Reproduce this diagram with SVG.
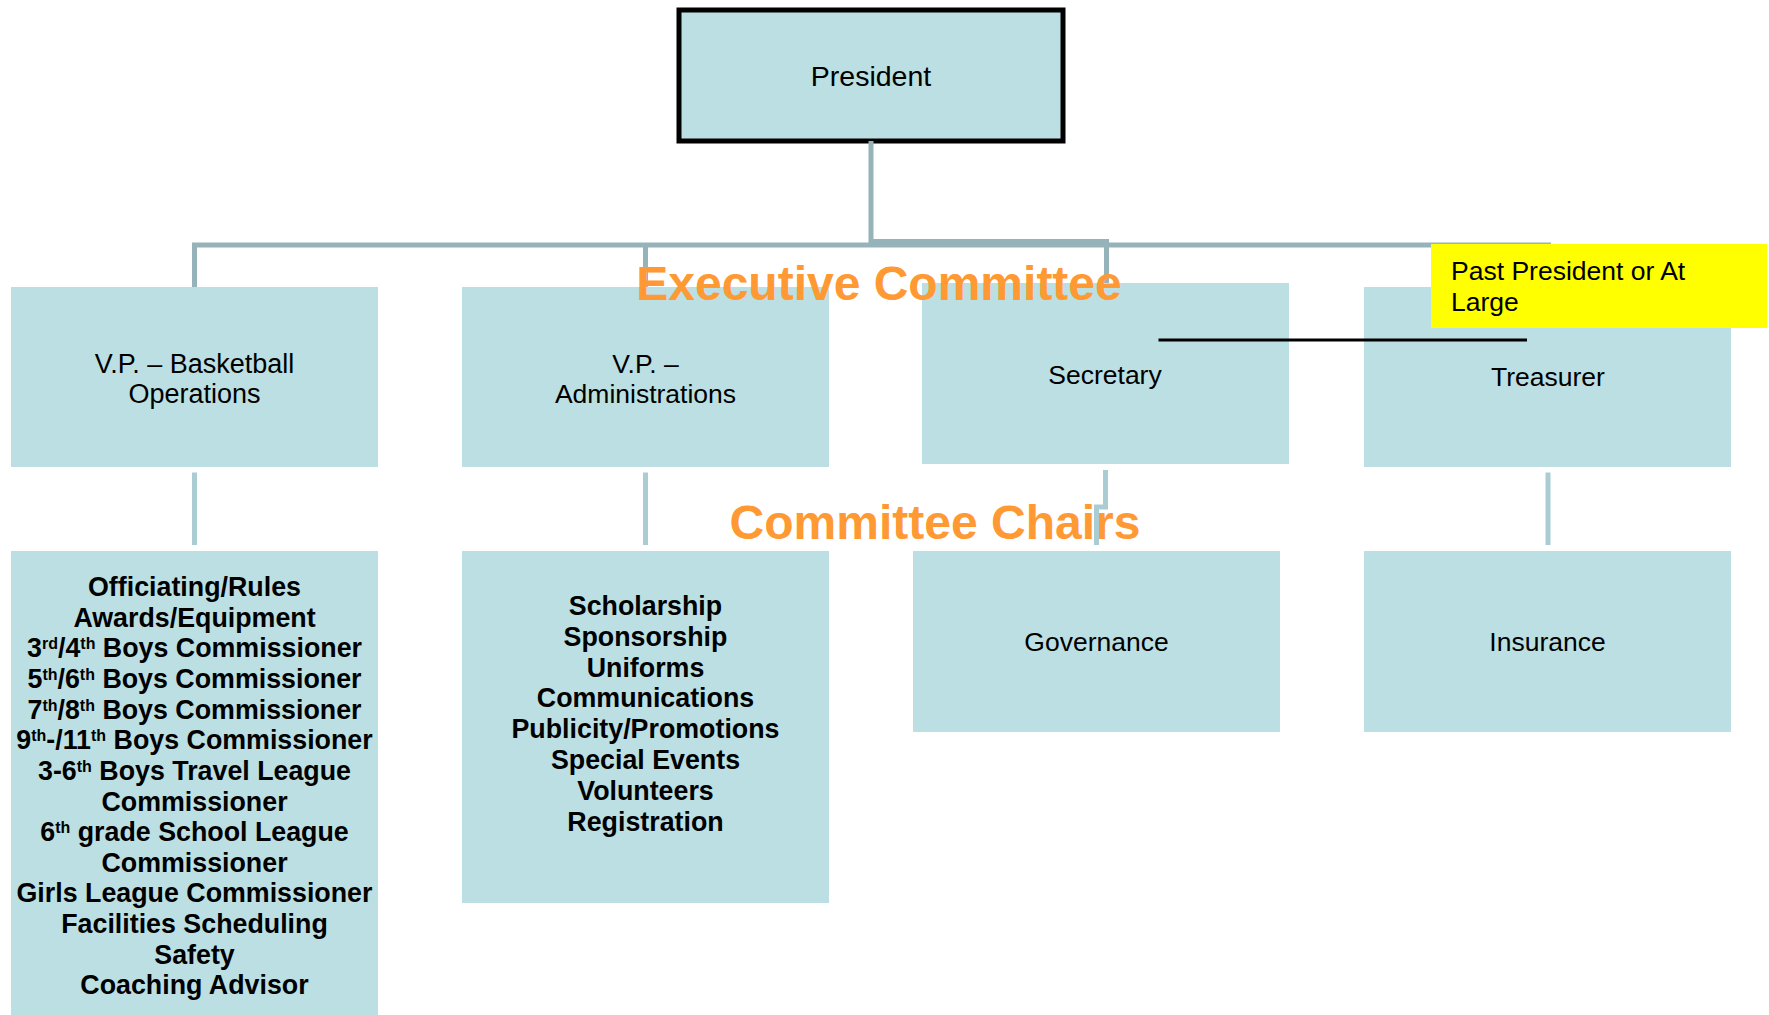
<svg xmlns="http://www.w3.org/2000/svg" width="1769" height="1015" viewBox="0 0 1769 1015">
<style>
.box{fill:#BBDFE2}
.lbl{font-family:"Liberation Sans",Arial,sans-serif;font-size:26.5px;fill:#000;text-anchor:middle}
.list{font-weight:bold;font-size:26.8px}
.sup{font-size:16px}
.ct{stroke:#95B3B8;stroke-width:5;fill:none}
.cl{stroke:#A9CDD2;stroke-width:5;fill:none}
.title{font-family:"Liberation Sans",Arial,sans-serif;font-weight:bold;fill:#FF9933;font-size:48px;text-anchor:middle}
</style>
<rect width="1769" height="1015" fill="#FFFFFF"/>
<g id="president">
<rect x="679" y="10" width="384" height="131" fill="#BBDFE2" stroke="#000" stroke-width="5"/>
<text class="lbl" x="871" y="86" style="font-size:28.5px">President</text>
</g>
<g id="vp-basketball">
<rect class="box" x="11" y="287" width="367" height="180"/>
<text class="lbl" x="194.5" y="373" style="font-size:27px">V.P. – Basketball</text>
<text class="lbl" x="194.5" y="403" style="font-size:27px">Operations</text>
</g>
<g id="vp-admin">
<rect class="box" x="462" y="287" width="367" height="180"/>
<text class="lbl" x="645.5" y="373">V.P. –</text>
<text class="lbl" x="645.5" y="403">Administrations</text>
</g>
<g id="secretary">
<rect class="box" x="922" y="283" width="367" height="181"/>
<text class="lbl" x="1105" y="384">Secretary</text>
</g>
<g id="treasurer">
<rect class="box" x="1364" y="287" width="367" height="180"/>
<text class="lbl" x="1548" y="386">Treasurer</text>
</g>
<g id="basketball-chairs">
<rect class="box" x="11" y="551" width="367" height="470"/>
<text class="lbl list" x="194.5" y="596">Officiating/Rules</text>
<text class="lbl list" x="194.5" y="626.6">Awards/Equipment</text>
<text class="lbl list" x="194.5" y="657.3">3<tspan class="sup" baseline-shift="super">rd</tspan>/4<tspan class="sup" baseline-shift="super">th</tspan> Boys Commissioner</text>
<text class="lbl list" x="194.5" y="687.9">5<tspan class="sup" baseline-shift="super">th</tspan>/6<tspan class="sup" baseline-shift="super">th</tspan> Boys Commissioner</text>
<text class="lbl list" x="194.5" y="718.6">7<tspan class="sup" baseline-shift="super">th</tspan>/8<tspan class="sup" baseline-shift="super">th</tspan> Boys Commissioner</text>
<text class="lbl list" x="194.5" y="749.2">9<tspan class="sup" baseline-shift="super">th</tspan>-/11<tspan class="sup" baseline-shift="super">th</tspan> Boys Commissioner</text>
<text class="lbl list" x="194.5" y="779.8">3-6<tspan class="sup" baseline-shift="super">th</tspan> Boys Travel League</text>
<text class="lbl list" x="194.5" y="810.5">Commissioner</text>
<text class="lbl list" x="194.5" y="841.1">6<tspan class="sup" baseline-shift="super">th</tspan> grade School League</text>
<text class="lbl list" x="194.5" y="871.8">Commissioner</text>
<text class="lbl list" x="194.5" y="902.4">Girls League Commissioner</text>
<text class="lbl list" x="194.5" y="933">Facilities Scheduling</text>
<text class="lbl list" x="194.5" y="963.7">Safety</text>
<text class="lbl list" x="194.5" y="994.3">Coaching Advisor</text>
</g>
<g id="admin-chairs">
<rect class="box" x="462" y="551" width="367" height="352"/>
<text class="lbl list" x="645.5" y="615">Scholarship</text>
<text class="lbl list" x="645.5" y="645.8">Sponsorship</text>
<text class="lbl list" x="645.5" y="676.6">Uniforms</text>
<text class="lbl list" x="645.5" y="707.4">Communications</text>
<text class="lbl list" x="645.5" y="738.2">Publicity/Promotions</text>
<text class="lbl list" x="645.5" y="769">Special Events</text>
<text class="lbl list" x="645.5" y="799.8">Volunteers</text>
<text class="lbl list" x="645.5" y="830.6">Registration</text>
</g>
<g id="governance">
<rect class="box" x="913" y="551" width="367" height="181"/>
<text class="lbl" x="1096.5" y="651">Governance</text>
</g>
<g id="insurance">
<rect class="box" x="1364" y="551" width="367" height="181"/>
<text class="lbl" x="1547.5" y="651">Insurance</text>
</g>
<text class="title" x="935" y="539">Committee Chairs</text>
<g id="connectors">
<path class="ct" d="M871 141 V245"/>
<path class="ct" d="M194.5 287 V245 H1548.5 V287"/>
<path class="ct" d="M645.5 245 V287"/>
<path class="ct" d="M871 241.5 H1106.5 V283"/>
<path class="cl" d="M194.5 472.5 V545"/>
<path class="cl" d="M645.5 472.5 V545"/>
<path class="cl" d="M1105.5 470 V507 H1096.5 V545"/>
<path class="cl" d="M1548 472.5 V545"/>
</g>
<g id="past-president">
<rect x="1431" y="244" width="336" height="84" fill="#FFFF00"/>
<text class="lbl" x="1451" y="280" style="text-anchor:start">Past President or At</text>
<text class="lbl" x="1451" y="311" style="text-anchor:start">Large</text>
</g>
<line x1="1158.5" y1="340" x2="1527" y2="340" stroke="#000" stroke-width="3"/>
<text class="title" x="879" y="300">Executive Committee</text>
</svg>
